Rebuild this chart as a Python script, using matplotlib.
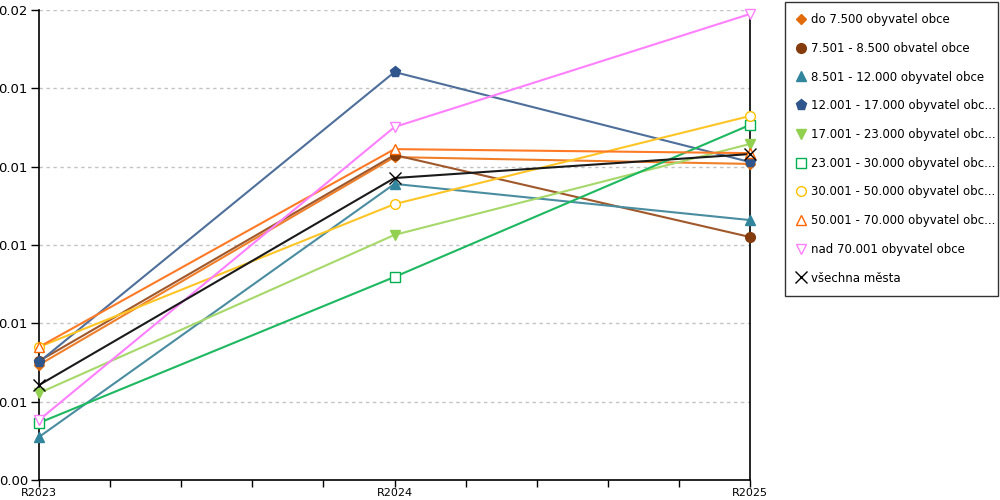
import matplotlib
matplotlib.use("Agg")
import matplotlib.pyplot as plt
from matplotlib.lines import Line2D
import numpy as np

plt.rcParams['font.family'] = ['DejaVu Sans']

categories = ["R2023", "R2024", "R2025"]
y_tick_values = [0.0, 0.02/6, 0.04/6, 0.06/6, 0.08/6, 0.10/6, 0.02]
y_tick_labels = ["0.00", "0.01", "0.01", "0.01", "0.01", "0.01", "0.02"]

labels = [
    "do 7.500 obyvatel obce",
    "7.501 - 8.500 obvatel obce",
    "8.501 - 12.000 obyvatel obce",
    "12.001 - 17.000 obyvatel obc...",
    "17.001 - 23.000 obyvatel obc...",
    "23.001 - 30.000 obyvatel obc...",
    "30.001 - 50.000 obyvatel obc...",
    "50.001 - 70.000 obyvatel obc...",
    "nad 70.001 obyvatel obce",
    "všechna města",
]

do_7500 = [0.00490, 0.01374, 0.01345]
s_7501_8500 = [0.00506, 0.01383, 0.01034]
s_8501_12000 = [0.00183, 0.01260, 0.01106]
s_12001_17000 = [0.00502, 0.01736, 0.01353]
s_17001_23000 = [0.00370, 0.01043, 0.01430]
s_23001_30000 = [0.00243, 0.00864, 0.01511]
s_30001_50000 = [0.00566, 0.01174, 0.01549]
s_50001_70000 = [0.00566, 0.01408, 0.01391]
s_nad_70001 = [0.00255, 0.01502, 0.01983]
s_vsechna = [0.00404, 0.01285, 0.01387]

series = [do_7500, s_7501_8500, s_8501_12000, s_12001_17000, s_17001_23000,
          s_23001_30000, s_30001_50000, s_50001_70000, s_nad_70001, s_vsechna]

line_colors = ["#F07F2A", "#A0582A", "#4A8CA0", "#4F6F9B", "#A6D86A",
               "#1DB860", "#FFC526", "#FF7A26", "#FF80FF", "#1A1A1A"]
marker_colors = ["#E36C0A", "#843C0C", "#31859C", "#2F568C", "#92D050",
                 "#00B050", "#FFC000", "#FF6600", "#FF80FF", "#000000"]
markers = ["D", "o", "^", "p", "v", "s", "o", "^", "v", "x"]
filled = [True, True, True, True, True, False, False, False, False, True]
msizes = [5.5, 7, 7, 8, 7.5, 7, 7, 7.5, 7.5, 8]

fig = plt.figure(figsize=(10, 5), dpi=100)
ax = fig.add_axes([0.039, 0.04, 0.711, 0.94])

x = np.arange(len(categories))
handles = []
for vals, lc, mc, mk, fl, ms, lab in zip(series, line_colors, marker_colors,
                                          markers, filled, msizes, labels):
    ax.plot(x, vals, color=lc, lw=1.5, zorder=3)
    kw = dict(marker=mk, markersize=ms, linestyle="none")
    if mk == "x":
        kw.update(color=mc, markeredgewidth=1.0)
    elif fl:
        kw.update(markerfacecolor=mc, markeredgecolor=mc)
    else:
        kw.update(markerfacecolor="white", markeredgecolor=mc, markeredgewidth=1.0)
    ax.plot(x, vals, zorder=4, clip_on=False, **kw)
    handles.append(Line2D([], [], label=lab, **kw))

ax.set_xlim(0, 2)
ax.set_ylim(0, 0.02)
ax.set_xticks(x)
ax.set_xticklabels(categories, fontsize=8)
ax.set_xticks(np.arange(0, 2.01, 0.2), minor=True)
ax.set_yticks(y_tick_values)
ax.set_yticklabels(y_tick_labels, fontsize=9.5)
ax.tick_params(axis="x", which="both", direction="out", length=5, width=1, pad=1, color="black")
ax.tick_params(axis="y", direction="out", length=6, width=1, pad=2)
for v in y_tick_values[1:]:
    ax.axhline(v, color="#C4C4C4", lw=1, linestyle=(0, (2.5, 2.5)), zorder=1)

ax.spines["top"].set_visible(False)
for s in ["left", "right", "bottom"]:
    ax.spines[s].set_color("black")
    ax.spines[s].set_linewidth(1.2)

leg = fig.legend(handles=handles, loc="upper left",
                 bbox_to_anchor=(0.785, 0.404, 0.213, 0.592), mode="expand",
                 fontsize=8.5, frameon=True, fancybox=False, edgecolor="black",
                 labelspacing=1.33, handlelength=0.8, handletextpad=0.45,
                 borderpad=0.95, borderaxespad=0)
leg.get_frame().set_linewidth(1.0)

fig.savefig("out.png", dpi=100)
